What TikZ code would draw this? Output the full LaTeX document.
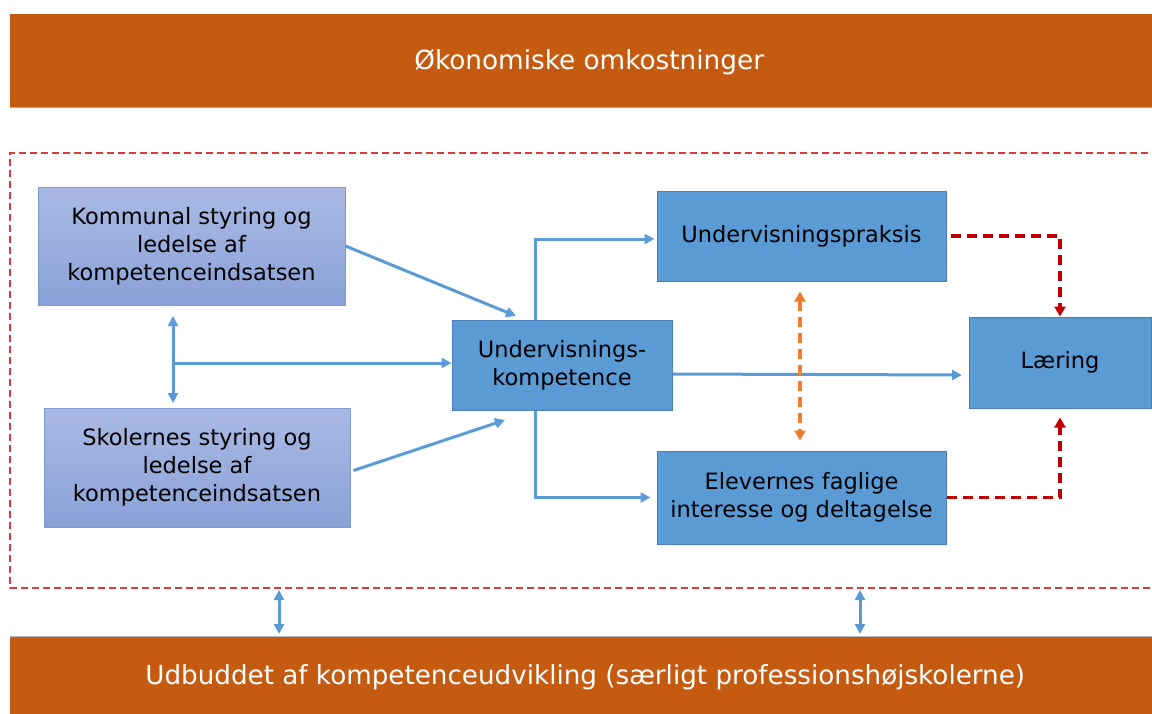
\documentclass[tikz,border=0pt]{standalone}
\usepackage{fontspec}
\setmainfont{DejaVu Sans}
\usetikzlibrary{arrows.meta,calc}
\definecolor{barorange}{HTML}{C55A11}
\definecolor{boxblue}{HTML}{5B9BD5}
\definecolor{boxedge}{HTML}{4A7EB5}
\definecolor{gradtop}{HTML}{A9B9E3}
\definecolor{gradbot}{HTML}{8AA2D8}
\definecolor{gradedge}{HTML}{7E98D0}
\definecolor{arrblue}{HTML}{5B9BD5}
\definecolor{dred}{HTML}{C00000}
\definecolor{frame}{HTML}{D93A3A}
\definecolor{dorange}{HTML}{ED7D31}
\tikzset{
  bar/.style={fill=barorange, draw=none, inner sep=0pt, text=white},
  bluebox/.style={fill=boxblue, draw=boxedge, line width=1pt, inner sep=0pt, align=center,
    font=\fontsize{22.5}{28}\selectfont},
  gradbox/.style={top color=gradtop, bottom color=gradbot, draw=gradedge, line width=1pt,
    inner sep=0pt, align=center, font=\fontsize{22.5}{28}\selectfont},
  barrow/.style={draw=arrblue, line width=3pt, -{Triangle[length=10pt,width=10pt]}},
  bdarrow/.style={draw=arrblue, line width=3pt, {Triangle[length=10pt,width=10pt]}-{Triangle[length=10pt,width=10pt]}},
  redarrow/.style={draw=dred, line width=3.2pt, dash pattern=on 10pt off 6pt, -{Triangle[length=10pt,width=11pt]}},
  orarrow/.style={draw=dorange, line width=3.2pt, dash pattern=on 10pt off 6pt,
    {Triangle[length=10pt,width=11pt]}-{Triangle[length=10pt,width=11pt]}},
}
\begin{document}
\begin{tikzpicture}[x=1pt,y=-1pt]
\useasboundingbox (0,0) rectangle (1152,713);
% bars
\node[bar, minimum width=1146pt, minimum height=93pt, anchor=north west] (top) at (10,14) {};
\node[text=white, inner sep=0pt, font=\fontsize{26.3}{30}\selectfont] (toptext) at ($(top.center)+(6,2)$) {Økonomiske omkostninger};
\draw[gray!70, line width=1pt] (top.south west) -- (top.south east);
\node[bar, minimum width=1146pt, minimum height=78pt, anchor=north west] (bot) at (10,636) {};
\node[text=white, inner sep=0pt, font=\fontsize{26.2}{30}\selectfont] (bottext) at ($(bot.center)+(2,2)$) {Udbuddet af kompetenceudvikling (særligt professionshøjskolerne)};
\draw[gray!60, line width=1pt] (bot.north west) -- (bot.north east);
% dashed frame
\draw[frame, line width=1.2pt, dash pattern=on 7pt off 4pt] (1170,153) -- (10,153) -- (10,588) -- (1170,588);
% boxes
\node[gradbox, minimum width=307pt, minimum height=118pt] (K) at (191.5,246)
  {Kommunal styring og\\ledelse af\\kompetenceindsatsen};
\node[gradbox, minimum width=306pt, minimum height=119pt] (S) at (197,467.5)
  {Skolernes styring og\\ledelse af\\kompetenceindsatsen};
\node[bluebox, minimum width=220pt, minimum height=90pt] (UK) at (562,365)
  {Undervisnings-\\kompetence};
\node[bluebox, minimum width=289pt, minimum height=90pt] (UP) at (801.5,236)
  {Undervisningspraksis};
\node[bluebox, minimum width=289pt, minimum height=93pt] (E) at (801.5,497.5)
  {Elevernes faglige\\interesse og deltagelse};
\node[bluebox, minimum width=182pt, minimum height=91pt] (L) at (1060,362.5)
  {Læring};
% helper coordinates
\coordinate (kin) at (516,316);
\coordinate (sin) at (505,420);
\coordinate (vtop) at (173,316);
\coordinate (vbot) at (173,403);
\coordinate (vmid) at (173,363);
\coordinate (ukout) at ($(UK.east)+(0,9)$);
\coordinate (lin) at (962,375);
\coordinate (b1top) at (279,590);
\coordinate (b1bot) at (279,634);
\coordinate (b2top) at (860,590);
\coordinate (b2bot) at (860,634);
% blue arrows
\draw[barrow] (K.east) -- (kin);
\draw[barrow] ($(S.east)+(3,3)$) -- (sin);
\draw[bdarrow] (vtop) -- (vbot);
\draw[barrow] (vmid) -- (UK.west |- vmid);
\draw[barrow] (UK.north -| 535,0) |- ($(UP.west)+(-2,3)$);
\draw[barrow] (UK.south -| 535,0) |- ($(E.west)+(-6,0)$);
\draw[barrow] (ukout) -- (lin);
\draw[bdarrow] (b1top) -- (b1bot);
\draw[bdarrow] (b2top) -- (b2bot);
% orange dashed
\draw[orarrow] ($(UP.south -| 800,0)+(0,10)$) -- ($(E.north -| 800,0)+(0,-10)$);
% red dashed
\draw[redarrow] ($(UP.east)+(4,0)$) -| (L.north);
\draw[redarrow] (E.east) -| ($(L.south)+(0,9)$);
\end{tikzpicture}
\end{document}
